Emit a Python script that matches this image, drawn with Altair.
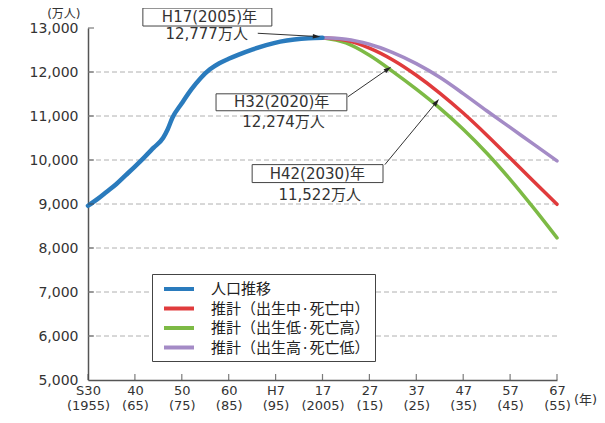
import math
import altair as alt
import pandas as pd

# ---------------- data ----------------
hist_years = [1955, 1957, 1959, 1961, 1963, 1965, 1967, 1969, 1971, 1972, 1973, 1975,
              1977, 1979, 1981, 1983, 1985, 1987, 1990, 1993, 1996, 1999, 2002, 2005]
hist_values = [8960, 9110, 9280, 9450, 9650, 9850, 10060, 10280, 10500, 10700, 10960, 11290,
               11600, 11860, 12060, 12200, 12300, 12390, 12510, 12610, 12690, 12740, 12768, 12777]

proj_years = [2005, 2010, 2015, 2020, 2025, 2030, 2035, 2040, 2045, 2050, 2055]
proj_mid = [12777, 12718, 12543, 12274, 11927, 11522, 11068, 10570, 10044, 9515, 8993]
proj_low = [12777, 12660, 12380, 12010, 11610, 11180, 10700, 10160, 9560, 8910, 8230]
proj_high = [12777, 12745, 12630, 12440, 12190, 11880, 11510, 11120, 10740, 10360, 9980]

series_names = ["人口推移", "推計（出生中·死亡中）", "推計（出生低·死亡高）", "推計（出生高·死亡低）"]
series_colors = ["#2a7bbd", "#e03b3c", "#7dba45", "#a48bc6"]

x_tick_years = [1955, 1965, 1975, 1985, 1995, 2005, 2015, 2025, 2035, 2045, 2055]
x_tick_top = ["S30", "40", "50", "60", "H7", "17", "27", "37", "47", "57", "67"]
x_tick_bottom = ["(1955)", "(65)", "(75)", "(85)", "(95)", "(2005)", "(15)", "(25)", "(35)", "(45)", "(55)"]
y_tick_values = [5000, 6000, 7000, 8000, 9000, 10000, 11000, 12000, 13000]
grid_values = [6000, 7000, 8000, 9000, 10000, 11000, 12000]

# annotation boxes (data coordinates)
box_x1 = [1966.7, 1982.3, 1990.0]
box_x2 = [1994.2, 2010.2, 2017.9]
box_y1 = [13045, 11119, 9487]
box_y2 = [13453, 11504, 9895]

ann_text = ["H17(2005)年", "12,777万人", "H32(2020)年", "12,274万人", "H42(2030)年", "11,522万人"]
ann_x = [1980.9, 1980.3, 1996.3, 1996.7, 2003.9, 2004.4]
ann_y = [13249, 12864, 11311, 10870, 9691, 9215]

arr_x1 = [1991.2, 2010.4, 2018.3]
arr_y1 = [12880, 11436, 9895]
arr_x2 = [2004.5, 2019.6, 2029.8]
arr_y2 = [12803, 12116, 11380]

# ---------------- layout ----------------
W, H = 469, 352
XMIN, XMAX = 1955, 2055
YMIN, YMAX = 5000, 13000
FONT = "DejaVu Sans, Noto Sans CJK JP"
TXT = "#333333"

rows = []
for yr, v in zip(hist_years, hist_values):
    rows.append({"year": yr, "value": v, "series": series_names[0]})
for name, vals in zip(series_names[1:], [proj_mid, proj_low, proj_high]):
    for yr, v in zip(proj_years, vals):
        rows.append({"year": yr, "value": v, "series": name})
df = pd.DataFrame(rows)

xscale = alt.Scale(domain=[XMIN, XMAX], nice=False, zero=False)
yscale = alt.Scale(domain=[YMIN, YMAX], nice=False, zero=False)

label_pairs = ",".join(f"['{a}','{b}']" for a, b in zip(x_tick_top, x_tick_bottom))
x_axis = alt.Axis(values=x_tick_years, labelExpr=f"[{label_pairs}][round((datum.value-1955)/10)]",
                  ticks=False, grid=False, labelPadding=4, labelBaseline="top", labelLineHeight=15,
                  labelFontSize=13, labelFlush=False, labelOverlap=False,
                  title="(年)", titleX=W + 28, titleY=19, titleAnchor="start", titleAlign="center",
                  titleBaseline="middle", titleFontWeight="normal", titleFontSize=13, titleColor=TXT,
                  titleFont=FONT)
y_axis = alt.Axis(values=y_tick_values, format=",d", ticks=False, grid=False, labelPadding=10,
                  title="(万人)", titleAngle=0, titleX=-8, titleY=-8, titleAlign="right",
                  titleBaseline="bottom", titleFontWeight="normal", titleFontSize=12, titleColor=TXT,
                  titleFont=FONT)

X = lambda f: alt.X(f, scale=xscale, axis=x_axis)
Y = lambda f: alt.Y(f, scale=yscale, axis=y_axis)

legend = alt.Legend(orient="none", legendX=64, legendY=246, title=None,
                    symbolType="M-0.375,0H3.375", symbolSize=256, symbolStrokeWidth=4,
                    labelFont="Noto Sans CJK JP", labelFontSize=15, labelColor="#222222",
                    labelOffset=34, labelLimit=400, rowPadding=1.5, padding=5,
                    strokeColor="#444444", fillColor="white")
color = alt.Color("series:N", scale=alt.Scale(domain=series_names, range=series_colors), legend=legend)

# grid
grid = alt.Chart(pd.DataFrame({"v": grid_values})).mark_rule(
    color="#b0b0b0", strokeWidth=1, strokeDash=[5, 3]
).encode(x=alt.value(0), x2=alt.value(W), y=Y("v:Q"))

# lines
def line(name, width):
    return alt.Chart(df).transform_filter(alt.datum.series == name).mark_line(
        strokeWidth=width, strokeCap="round", strokeJoin="round", interpolate="monotone"
    ).encode(x=X("year:Q"), y=Y("value:Q"), color=color, order="year:Q")

lines = [line(series_names[2], 3.5), line(series_names[1], 3.5), line(series_names[3], 3.5),
         line(series_names[0], 4.5)]

# inward ticks
xt = alt.Chart(pd.DataFrame({"year": x_tick_years, "base": [YMIN] * len(x_tick_years)})).mark_tick(
    orient="vertical", size=6, thickness=1.2, yOffset=-3, color="#444444"
).encode(x=X("year:Q"), y=Y("base:Q"))
yt = alt.Chart(pd.DataFrame({"v": y_tick_values[1:], "base": [XMIN] * (len(y_tick_values) - 1)})).mark_tick(
    orient="horizontal", size=6, thickness=1.2, xOffset=3, color="#444444"
).encode(x=X("base:Q"), y=Y("v:Q"))

# annotation boxes
boxes = alt.Chart(pd.DataFrame({"x1": box_x1, "x2": box_x2, "y1": box_y1, "y2": box_y2})).mark_rect(
    fill="white", stroke="#444444", strokeWidth=1
).encode(x=X("x1:Q"), x2="x2:Q", y=Y("y1:Q"), y2="y2:Q")

texts = alt.Chart(pd.DataFrame({"t": ann_text, "x": ann_x, "y": ann_y})).mark_text(
    font=FONT, fontSize=15, color=TXT, align="center", baseline="middle"
).encode(x=X("x:Q"), y=Y("y:Q"), text="t:N")

# arrows
px_x = W / (XMAX - XMIN)
px_y = H / (YMAX - YMIN)
hx, hy, ang = [], [], []
for x1, y1, x2, y2 in zip(arr_x1, arr_y1, arr_x2, arr_y2):
    dx = (x2 - x1) * px_x
    dy = -(y2 - y1) * px_y
    L = math.hypot(dx, dy)
    ux, uy = dx / L, dy / L
    back = 3.5
    hx.append(x2 - ux * back / px_x)
    hy.append(y2 + uy * back / px_y)
    ang.append(math.degrees(math.atan2(dx, -dy)) % 360)
arrow_df = pd.DataFrame({"x1": arr_x1, "y1": arr_y1, "x2": hx, "y2": hy, "ang": ang})
shafts = alt.Chart(arrow_df).mark_rule(color="#333333", strokeWidth=1).encode(
    x=X("x1:Q"), x2="x2:Q", y=Y("y1:Q"), y2="y2:Q")
heads = alt.Chart(arrow_df).mark_point(
    shape="M0,-1L0.6,1L-0.6,1Z", filled=True, size=60, color="#222222", opacity=1
).encode(x=X("x2:Q"), y=Y("y2:Q"), angle=alt.Angle("ang:Q", scale=None))

chart = alt.layer(grid, *lines, xt, yt, boxes, shafts, heads, texts).properties(
    width=W, height=H,
    autosize=alt.AutoSizeParams(type="none"),
    padding={"left": 80, "top": 20, "right": 40, "bottom": 35},
    background="white",
).configure_view(stroke=None).configure_axis(
    domainColor="#555555", domainWidth=1.5, labelFont=FONT, labelFontSize=14, labelColor=TXT
)

chart.save("out.html", embed_options={"renderer": "svg", "actions": False})
